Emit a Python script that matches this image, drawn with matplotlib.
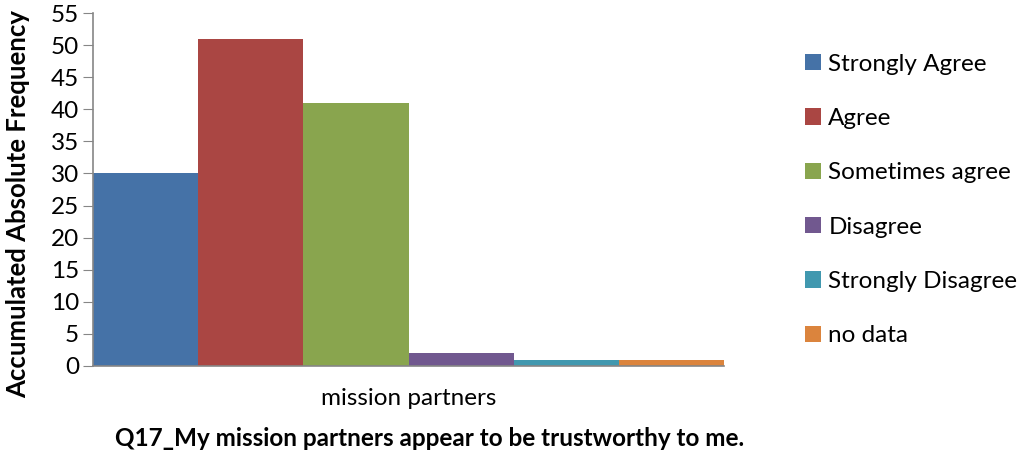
import matplotlib
matplotlib.use('Agg')
import matplotlib.pyplot as plt

plt.rcParams['font.family'] = ['Lato', 'DejaVu Sans']

answers = ['Strongly Agree', 'Agree', 'Sometimes agree', 'Disagree',
           'Strongly Disagree', 'no data']
counts = [30, 51, 41, 2, 1, 1]
colors = ['#4572a7', '#aa4643', '#89a54e', '#71588f', '#4198af', '#db843d']
yticks = list(range(0, 56, 5))

fig = plt.figure(figsize=(10.23, 4.58), dpi=100)
ax = fig.add_axes([0.0909, 0.2009, 0.617, 0.7707])

for i, (a, c, col) in enumerate(zip(answers, counts, colors)):
    ax.bar(i, c, width=1.0, color=col, label=a, align='center')

ax.set_xlim(-0.5, len(answers) - 0.5)
ax.set_ylim(0, 55)
ax.set_yticks(yticks)
ax.tick_params(axis='y', labelsize=17.5, length=7, color='#868686', pad=3)
ax.set_xticks([])

for s in ['top', 'right']:
    ax.spines[s].set_visible(False)
for s in ['left', 'bottom']:
    ax.spines[s].set_color('#868686')
    ax.spines[s].set_linewidth(1.2)

# y label placed by hand, it sits a bit lower than the axis centre
fig.text(18 / 1023, 1 - 204 / 458, 'Accumulated Absolute Frequency', fontsize=18.5,
         fontweight='bold', rotation=90, ha='center', va='center')
ax.set_xlabel('mission partners', fontsize=17.5, labelpad=16)
fig.text(0.42, 0.043, 'Q17_My mission partners appear to be trustworthy to me.',
         fontsize=17.5, fontweight='bold', ha='center', va='center')

leg = ax.legend(loc='upper left', bbox_to_anchor=(1.113, 0.912), frameon=False,
                fontsize=17.5, labelspacing=1.37, handlelength=0.65, handleheight=0.65,
                handletextpad=0.3, borderaxespad=0)

fig.savefig('out.png', dpi=100)
